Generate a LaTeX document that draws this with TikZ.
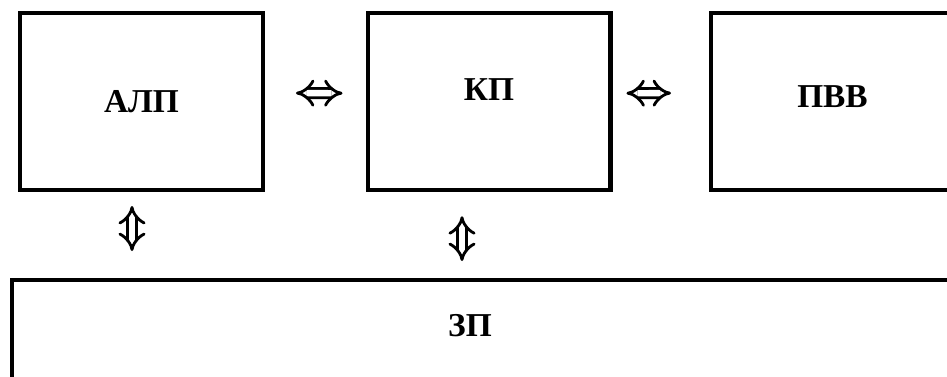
\documentclass[tikz,border=0pt]{standalone}
\usepackage{fontspec}
\setmainfont{Liberation Serif}
\usetikzlibrary{arrows.meta,positioning}

\begin{document}
\begin{tikzpicture}[x=0.02cm, y=-0.02cm,
    block/.style={rectangle, draw=black, line width=2.3pt, minimum width=4.86cm, minimum height=3.54cm, inner sep=0pt, font=\bfseries\fontsize{19}{23}\selectfont},
    link/.style={double, double distance=3.6pt, line width=1.6pt, {Implies[length=6pt,width=12pt]}-{Implies[length=6pt,width=12pt]}}]
            \useasboundingbox (0,0) rectangle (947,376);
            \clip (0,0) rectangle (947,376);

            \node[block] (alp) at (141.5,101.5) {АЛП};
            \node[block, text depth=0.48cm] (kp) at (489,101.75) {КП};
            \node[block, text depth=0.2cm] (pvv) at (832.5,101.5) {ПВВ};
            \node[block, minimum width=19.56cm, minimum height=2.8cm] (zp) at (501,350) {};
            \node[font=\bfseries\fontsize{19}{23}\selectfont, inner sep=0pt] (zptext) at (470,326) {ЗП};

            \coordinate (alpdown) at ([xshift=-0.19cm]alp.south);
            \coordinate (kpdown) at ([xshift=-0.54cm]kp.south);

            \draw[link, shorten <=0.62cm, shorten >=0.46cm] ([yshift=0.17cm]alp.east) -- ([yshift=0.17cm]kp.west);
            \draw[link, shorten <=0.28cm, shorten >=0.76cm] ([yshift=0.17cm]kp.east) -- ([yshift=0.17cm]pvv.west);
            \draw[link, shorten <=0.28cm, shorten >=0.54cm] (alpdown) -- (alpdown |- zp.north);
            \draw[link, shorten <=0.48cm, shorten >=0.34cm] (kpdown) -- (kpdown |- zp.north);
        \end{tikzpicture}
\end{document}
